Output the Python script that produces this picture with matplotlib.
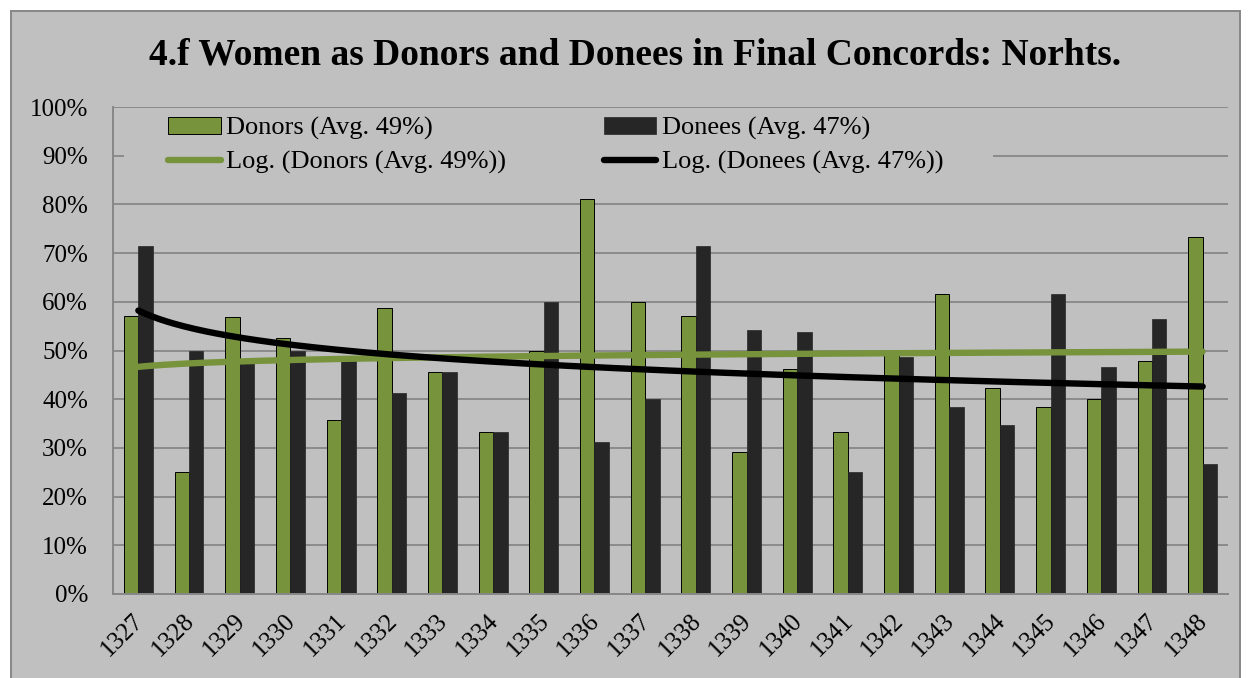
import numpy as np
import matplotlib
matplotlib.use("Agg")
import matplotlib.pyplot as plt
from matplotlib.patches import Rectangle
from matplotlib.ticker import PercentFormatter, MultipleLocator
from matplotlib.transforms import ScaledTranslation

years = [str(y) for y in range(1327, 1349)]
donors = [57.1, 25.0, 56.8, 52.6, 35.7, 58.8, 45.5, 33.3, 50.0, 81.2, 60.0,
          57.1, 29.2, 46.2, 33.3, 50.0, 61.5, 42.3, 38.5, 40.0, 47.8, 73.3]
donees = [71.4, 50.0, 47.6, 50.0, 48.0, 41.2, 45.5, 33.3, 60.0, 31.2, 40.0,
          71.4, 54.2, 53.8, 25.0, 48.7, 38.5, 34.6, 61.5, 46.7, 56.5, 26.7]
labels = ["Donors (Avg. 49%)", "Donees (Avg. 47%)",
          "Log. (Donors (Avg. 49%))", "Log. (Donees (Avg. 47%))"]
title = "4.f Women as Donors and Donees in Final Concords: Norhts."

GREEN = "#77933C"
DARK = "#262626"
BG = "#C0C0C0"
GRID = "#878787"
SERIF = ["Liberation Serif", "DejaVu Serif"]

W, H = 1248, 678
fig = plt.figure(figsize=(W / 100, H / 100), dpi=100)
fig.patch.set_facecolor("white")
fig.patches.append(Rectangle((11 / W, -0.02), (1240 - 11) / W, 1.02 - 11 / H,
                             transform=fig.transFigure, facecolor=BG,
                             edgecolor=GRID, linewidth=1.4, zorder=-10))

ax = fig.add_axes([113 / W, 1 - 594 / H, (1228 - 113) / W, (594 - 107) / H])
ax.set_facecolor(BG)

x = np.arange(len(years))
bw = 0.285
b_don = ax.bar(x - bw / 2, donors, width=bw, color=GREEN, edgecolor="black",
               linewidth=0.7, zorder=2)
b_dne = ax.bar(x + bw / 2, donees, width=bw, color=DARK, edgecolor=DARK,
               linewidth=0.5, zorder=2)

# logarithmic trendlines (Excel style: y = a*ln(n) + b, n = 1..N)
n = x + 1
lx = np.log(n)
a_d, b_d = np.polyfit(lx, donors, 1)
a_e, b_e = np.polyfit(lx, donees, 1)
xs = np.linspace(1, len(years), 300)
l_don, = ax.plot(xs - 1, a_d * np.log(xs) + b_d, color=GREEN, lw=4.6,
                 solid_capstyle="round", zorder=3)
l_dne, = ax.plot(xs - 1, a_e * np.log(xs) + b_e, color="black", lw=4.6,
                 solid_capstyle="round", zorder=3)

ax.set_xlim(-0.5, len(years) - 0.5)
ax.set_ylim(0, 100)
ax.yaxis.set_major_locator(MultipleLocator(10))
ax.yaxis.set_major_formatter(PercentFormatter(decimals=0))
ax.set_axisbelow(True)
ax.grid(axis="y", color=GRID, linewidth=1.3, zorder=0.5)
ax.grid(axis="x", visible=False)
for s in ["top", "right"]:
    ax.spines[s].set_visible(False)
for s in ["left", "bottom"]:
    ax.spines[s].set_color(GRID)
    ax.spines[s].set_linewidth(1.4)
ax.tick_params(axis="both", length=0)
ax.tick_params(axis="y", pad=18)
ax.set_xticks(x)
ax.set_xticklabels(years, rotation=45, ha="right", va="top",
                   rotation_mode="anchor")
ax.tick_params(axis="x", pad=11)
off = ScaledTranslation(-6 / 100, 0, fig.dpi_scale_trans)
for t in ax.get_xticklabels():
    t.set_transform(t.get_transform() + off)
for t in ax.get_xticklabels() + ax.get_yticklabels():
    t.set_fontfamily(SERIF)
    t.set_fontsize(18)
    t.set_color("black")

# legend background panel hiding gridlines
ax.add_patch(Rectangle((-0.283, 85.0), 17.14, 14.8, facecolor=BG,
                       edgecolor="none", zorder=0.8))

ax.legend([b_don, l_don, b_dne, l_dne],
          [labels[0], labels[2], labels[1], labels[3]], ncol=2,
          loc="upper left", bbox_to_anchor=(168 / W, 1 - 117 / H),
          bbox_transform=fig.transFigure, frameon=False,
          prop={"family": SERIF, "size": 19}, borderpad=0,
          borderaxespad=0, handlelength=2.0, handletextpad=0.2,
          columnspacing=3.7, labelspacing=0.42, handleheight=0.6)

fig.text(635 / W, 1 - 55 / H, title, ha="center", va="center",
         fontfamily=SERIF, fontsize=27, fontweight="bold")

fig.savefig("out.png", dpi=100, facecolor=fig.get_facecolor())
